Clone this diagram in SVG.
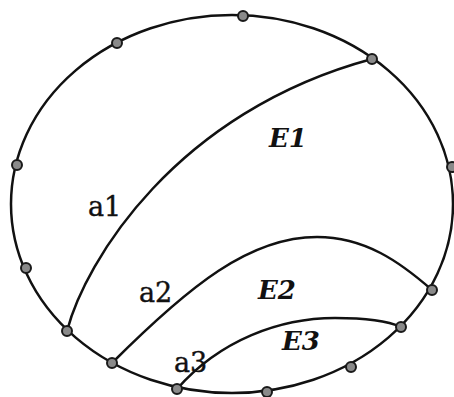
<svg xmlns="http://www.w3.org/2000/svg" width="454" height="397" viewBox="0 0 454 397">
<style>
.ln{fill:none;stroke:#111;stroke-width:2.5}
.pt{fill:#8a8a8a;stroke:#1a1a1a;stroke-width:2}
.lb{font-family:"DejaVu Serif",serif;font-size:27px;fill:#111;stroke:#111;stroke-width:0.4}
.rg{font-family:"DejaVu Serif",serif;font-size:26px;font-weight:bold;font-style:italic;fill:#111}
</style>
<rect width="454" height="397" fill="#fff"/>
<g id="boundary">
<ellipse class="ln" cx="232" cy="204" rx="221" ry="189"/>
</g>
<g id="connectors">
<path id="a1" class="ln" d="M67,331 C85,262 175,112 372,59"/>
<path id="a2" class="ln" d="M112,363 C190,285 250,237 317,237 C365,237 400,262 432,290"/>
<path id="a3" class="ln" d="M177,389 C220,340 280,318 335,318 C370,318 390,322 401,327"/>
</g>
<g id="points">
<circle class="pt" cx="243" cy="16" r="5"/>
<circle class="pt" cx="117" cy="43" r="5"/>
<circle class="pt" cx="372" cy="59" r="5"/>
<circle class="pt" cx="17" cy="165" r="5"/>
<circle class="pt" cx="452" cy="167" r="5"/>
<circle class="pt" cx="26" cy="268" r="5"/>
<circle class="pt" cx="67" cy="331" r="5"/>
<circle class="pt" cx="112" cy="363" r="5"/>
<circle class="pt" cx="177" cy="389" r="5"/>
<circle class="pt" cx="267" cy="392" r="5"/>
<circle class="pt" cx="351" cy="367" r="5"/>
<circle class="pt" cx="401" cy="327" r="5"/>
<circle class="pt" cx="432" cy="290" r="5"/>
</g>
<g id="labels">
<text class="lb" x="88" y="216">a1</text>
<text class="lb" x="139" y="302">a2</text>
<text class="lb" x="174" y="372">a3</text>
<text class="rg" x="269" y="147">E1</text>
<text class="rg" x="258" y="299">E2</text>
<text class="rg" x="282" y="350">E3</text>
</g>
</svg>
